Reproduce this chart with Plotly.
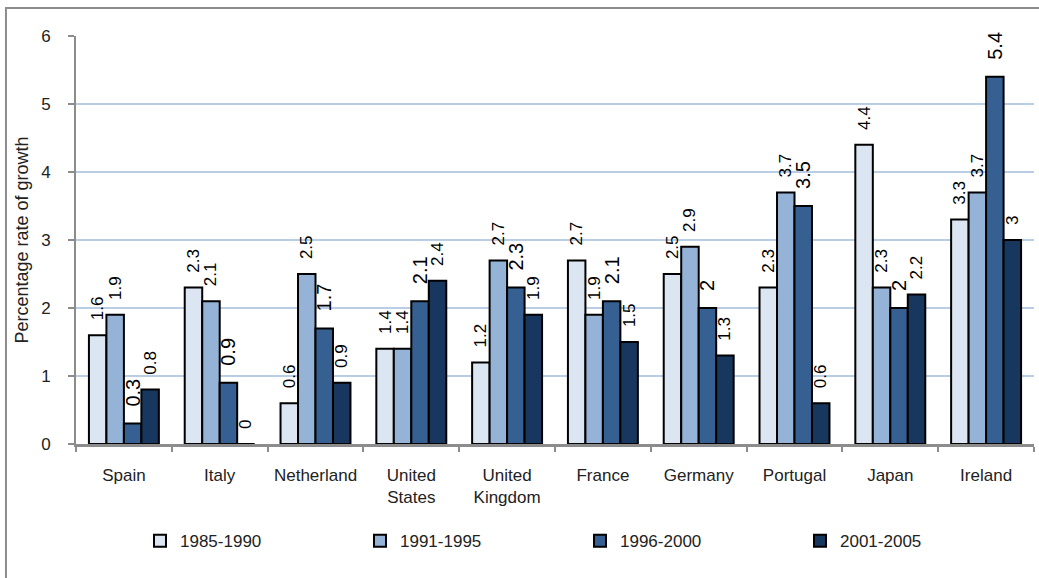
import plotly.graph_objects as go

countries = ["Spain", "Italy", "Netherland", "United<br>States", "United<br>Kingdom",
             "France", "Germany", "Portugal", "Japan", "Ireland"]
periods = ["1985-1990", "1991-1995", "1996-2000", "2001-2005"]

growth_1985_1990 = [1.6, 2.3, 0.6, 1.4, 1.2, 2.7, 2.5, 2.3, 4.4, 3.3]
growth_1991_1995 = [1.9, 2.1, 2.5, 1.4, 2.7, 1.9, 2.9, 3.7, 2.3, 3.7]
growth_1996_2000 = [0.3, 0.9, 1.7, 2.1, 2.3, 2.1, 2.0, 3.5, 2.0, 5.4]
growth_2001_2005 = [0.8, 0.0, 0.9, 2.4, 1.9, 1.5, 1.3, 0.6, 2.2, 3.0]

series = [growth_1985_1990, growth_1991_1995, growth_1996_2000, growth_2001_2005]
colors = ["#DCE6F2", "#95B3D7", "#376092", "#17375E"]
label_sizes = [17, 17, 20, 17]

FONT = "Liberation Sans, Arial, sans-serif"

fig = go.Figure()
for name, vals, col, fs in zip(periods, series, colors, label_sizes):
    fig.add_trace(go.Bar(
        name=name,
        x=countries,
        y=vals,
        marker=dict(color=col, line=dict(color="#000000", width=2)),
        texttemplate="\u2002\u2009%{y}",
        textposition="outside",
        textangle=-90,
        constraintext="none",
        cliponaxis=False,
        textfont=dict(family=FONT, size=fs, color="#000000"),
        hoverinfo="x+y+name",
    ))

fig.update_layout(
    width=1039,
    height=578,
    margin=dict(l=76, r=5, t=36, b=134),
    paper_bgcolor="#FFFFFF",
    plot_bgcolor="#FFFFFF",
    barmode="group",
    bargap=0.27,
    bargroupgap=0,
    font=dict(family=FONT, size=17, color="#222222"),
    showlegend=True,
    legend=dict(
        orientation="h",
        x=0.0668,
        xanchor="left",
        y=-0.238,
        yanchor="middle",
        font=dict(family=FONT, size=17, color="#222222"),
        entrywidth=175,
        entrywidthmode="pixels",
        itemwidth=30,
        bgcolor="rgba(0,0,0,0)",
        traceorder="normal",
    ),
    xaxis=dict(
        type="category",
        showline=True,
        linecolor="#8C8C8C",
        linewidth=2.5,
        ticks="outside",
        tickson="boundaries",
        ticklen=5,
        tickwidth=2,
        tickcolor="#8C8C8C",
        ticklabelstandoff=14,
        showgrid=False,
        tickfont=dict(family=FONT, size=17, color="#222222"),
    ),
    yaxis=dict(
        range=[0, 6],
        dtick=1,
        showline=True,
        linecolor="#8C8C8C",
        linewidth=2,
        ticks="outside",
        ticklen=6,
        tickwidth=2,
        tickcolor="#8C8C8C",
        ticklabelstandoff=14,
        showgrid=True,
        gridcolor="#B9CDE5",
        gridwidth=2,
        zeroline=False,
        tickfont=dict(family=FONT, size=17, color="#222222"),
        title=dict(text="Percentage rate of growth", standoff=8,
                   font=dict(family=FONT, size=18, color="#222222")),
    ),
)

# Outer chart frame
fig.add_shape(
    type="rect", xref="paper", yref="paper",
    x0=-0.0731, x1=1.05, y0=-0.5, y1=1.0686,
    line=dict(color="#8C8C8C", width=2),
    fillcolor="rgba(0,0,0,0)",
    layer="below",
)

fig.write_html("out.html")
